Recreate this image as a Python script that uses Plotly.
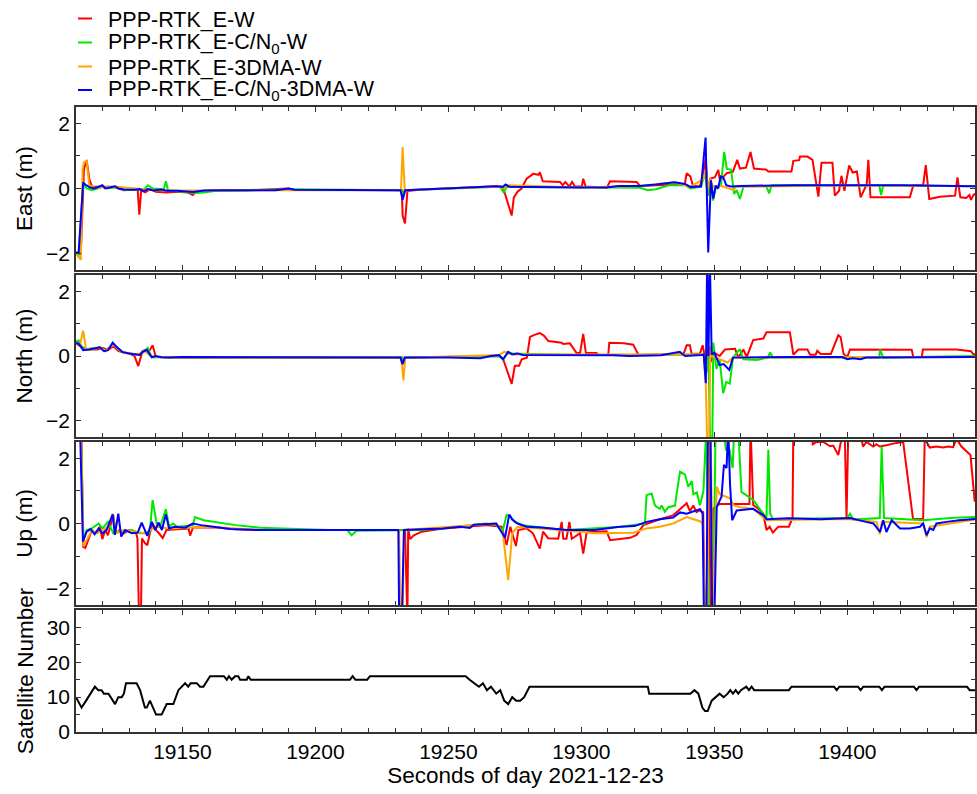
import plotly.graph_objects as go
from plotly.subplots import make_subplots

# ---------------- data (time [s of day], value) ----------------
east_red = [(19110,-2.0),(19111.8,-2.0),(19113,0.6),(19114,0.86),(19115,0.3),(19116,0.05),(19120,0.05),
    (19124,0.05),(19128,-0.05),(19132.3,-0.03),(19133.2,-0.05),(19133.8,-0.8),(19134.5,-0.05),(19136,-0.12),
    (19138,-0.02),(19140,-0.1),(19144,-0.12),(19148,-0.1),(19152,-0.12),(19153.9,-0.2),(19155,-0.1),
    (19160,-0.06),(19175,-0.05),(19190,0.0),(19192,-0.04),(19220,-0.05),(19232.5,-0.05),(19232.8,-0.83),
    (19233.7,-1.07),(19234.6,-0.08),(19240,-0.03),(19249,0.0),(19258,0.03),(19268,0.07),(19270.5,0.05),
    (19271.5,-0.2),(19273.8,-0.83),(19274.6,-0.28),(19276,-0.1),(19277.5,0.0),(19279.4,0.3),(19281.9,0.45),
    (19283.9,0.42),(19284.4,0.5),(19285.5,0.22),(19292,0.2),(19293,0.1),(19294,0.2),(19295.5,0.06),
    (19296.5,0.2),(19297.6,0.06),(19300.2,0.06),(19300.7,0.3),(19301.6,0.06),(19309.5,0.02),(19310.8,0.22),
    (19320.8,0.2),(19322,0.08),(19338.9,0.14),(19339.6,0.47),(19341,0.37),(19342,0.07),(19344.5,0.07),
    (19345.5,0.3),(19346.7,0.9),(19347.7,-0.22),(19348.4,0.3),(19350.2,0.35),(19351.5,0.57),(19352.1,0.25),
    (19354.7,0.47),(19357,0.52),(19358.6,0.88),(19359.6,0.61),(19361.9,0.64),(19363.6,1.12),(19364.9,0.61),
    (19369.4,0.58),(19370.3,0.52),(19379,0.52),(19379.7,0.85),(19381.9,0.87),(19382.2,0.98),(19385,0.98),
    (19386.9,0.88),(19389.1,-0.25),(19390.3,0.79),(19394.4,0.79),(19395.3,-0.22),(19396.9,-0.07),
    (19397.8,0.39),(19398.9,-0.07),(19400.7,0.71),(19402,0.49),(19403.6,0.52),(19405,-0.27),(19407.3,0.13),
    (19407.9,0.88),(19408.7,-0.27),(19423.5,-0.27),(19424.8,0.1),(19428.5,0.1),(19429.5,0.72),
    (19430.8,-0.32),(19434.8,-0.25),(19440.5,-0.22),(19441.4,0.34),(19442.5,-0.27),(19444.7,-0.29),
    (19445.9,-0.2),(19446.5,-0.35),(19447.3,-0.22),(19448,-0.15)]
east_green = [(19110,-2.0),(19111,-2.05),(19112.7,0.15),(19114,0.0),(19116,-0.05),(19118,0.0),(19120,0.05),
    (19122,0.0),(19125,0.04),(19128,-0.04),(19134,-0.04),(19136,0.0),(19137,0.1),(19139,0.0),(19143,-0.02),
    (19143.8,0.22),(19144.6,-0.06),(19150,-0.1),(19155,-0.14),(19158,-0.12),(19162,-0.08),(19170,-0.07),
    (19190,-0.02),(19232.5,-0.05),(19232.8,-0.15),(19233.5,-0.05),(19258,0.03),(19269.5,0.05),
    (19270.8,-0.12),(19272,0.05),(19310,0.03),(19322,0.02),(19325,-0.05),(19328,-0.02),(19333,0.1),
    (19339,0.1),(19341,0.0),(19345,0.06),(19346.5,0.5),(19347.5,-0.2),(19348.5,0.3),(19349.5,-0.37),
    (19350.5,0.0),(19352.5,0.1),(19353.7,1.12),(19354.7,0.6),(19356.3,0.58),(19357.4,-0.17),
    (19358.4,-0.05),(19359.6,-0.32),(19361,0.07),(19369.5,0.07),(19370.6,-0.15),(19371.5,0.1),
    (19400,0.1),(19412,0.1),(19412.7,-0.2),(19413.5,0.1),(19448,0.07)]
east_orange = [(19110,-2.0),(19111.8,-2.19),(19112.5,0.6),(19113,0.8),(19114,0.85),(19115,0.1),
    (19117,0.02),(19125,0.05),(19140,-0.05),(19160,-0.06),(19200,-0.05),(19232.2,-0.05),(19232.8,1.27),
    (19233.6,-0.05),(19258,0.03),(19269.5,0.05),(19271,0.0),(19272,0.1),(19300,0.03),(19322,0.08),
    (19335,0.19),(19341,0.05),(19346,0.3),(19346.8,0.6),(19347.6,0.0),(19348.5,0.3),(19349.5,0.05),
    (19352,0.1),(19357.2,-0.05),(19358,0.05),(19400,0.1),(19448,0.07)]
east_blue = [(19110,-1.96),(19111,-1.96),(19112.7,0.19),(19113.5,0.12),(19115.3,0.03),(19117,0.0),
    (19119.9,0.1),(19121,0.0),(19124.7,0.07),(19126,0.0),(19128,-0.03),(19132,-0.04),(19134,-0.02),
    (19135.5,-0.08),(19137,-0.02),(19139,-0.06),(19142,-0.03),(19144,-0.07),(19148,-0.07),(19154,-0.11),
    (19158,-0.06),(19165,-0.05),(19185,-0.05),(19190,0.0),(19192,-0.04),(19220,-0.05),(19232,-0.05),
    (19232.8,-0.35),(19233.8,-0.05),(19240,-0.03),(19249,0.0),(19258,0.03),(19263,0.05),(19268,0.07),
    (19270.5,0.05),(19271.5,0.12),(19273,0.05),(19280,0.04),(19300,0.03),(19310,0.04),(19314,0.08),
    (19322,0.08),(19328,0.12),(19335,0.19),(19339,0.14),(19341,0.05),(19345,0.06),(19346.7,1.56),
    (19347.7,-1.96),(19348.7,0.25),(19349.6,-0.31),(19350.5,0.09),(19351.4,0.0),(19352.4,0.37),
    (19353.4,0.33),(19354.5,0.1),(19356,0.06),(19360,0.08),(19380,0.1),(19420,0.1),(19440,0.08),
    (19448,0.07)]

north_red = [(19110,0.38),(19112,0.3),(19114,0.2),(19118,0.2),(19120,0.25),(19122,0.18),(19124,0.3),
    (19126,0.15),(19130,0.08),(19132,0.0),(19133.4,-0.31),(19135,0.15),(19136.5,0.2),(19137.5,0.15),
    (19138.8,0.33),(19140,-0.02),(19145,-0.05),(19200,-0.05),(19232.5,-0.05),(19233,-0.15),(19234,-0.05),
    (19269,0.0),(19270.6,-0.1),(19273.8,-0.86),(19275,-0.3),(19276.6,-0.3),(19277.6,-0.1),(19279.5,-0.05),
    (19280.7,0.59),(19282.6,0.66),(19284.4,0.71),(19285.9,0.63),(19287.6,0.46),(19292.6,0.41),
    (19293.2,0.37),(19295.7,0.39),(19298.2,0.09),(19299.5,0.09),(19300.7,0.68),(19301.7,0.09),
    (19305.7,0.09),(19306.5,0.03),(19310.1,0.03),(19310.5,0.41),(19316,0.39),(19319.5,0.35),
    (19321.5,0.03),(19338.4,0.06),(19339.6,0.33),(19340.8,0.33),(19341.5,0.06),(19344.6,0.08),
    (19345.6,0.33),(19346.4,0.0),(19347,-0.5),(19347.8,0.3),(19348.5,-0.2),(19350,0.1),(19352,0.0),
    (19354,0.2),(19357.8,0.22),(19359,-0.05),(19360.9,0.2),(19362.2,-0.03),(19364.6,0.49),(19368.4,0.54),
    (19369.6,0.73),(19378.4,0.73),(19379.7,0.04),(19381.6,0.2),(19385,0.2),(19386,0.04),(19388.1,0.04),
    (19388.7,0.16),(19390,0.06),(19393.8,0.06),(19396.6,0.64),(19397.5,0.58),(19398.6,0.06),
    (19400,-0.03),(19401,0.2),(19424.2,0.19),(19424.8,-0.03),(19428,-0.03),(19428.4,0.2),(19441,0.2),
    (19446.5,0.15),(19447.3,0.06),(19448,0.05)]
north_green = [(19110,0.45),(19111,0.48),(19112.7,0.2),(19119,0.27),(19121,0.15),(19124,0.38),(19127,0.12),
    (19134,0.03),(19137,0.25),(19138.5,-0.04),(19200,-0.05),(19232.5,-0.05),(19233,-0.2),(19233.5,-0.05),
    (19269.5,0.0),(19270.5,-0.12),(19272,0.08),(19300,0.03),(19346,0.05),(19346.8,-0.6),(19347.8,0.0),
    (19348.5,-3.0),(19349.2,-3.0),(19349.6,0.41),(19350.8,-0.4),(19352,-0.1),(19353.3,-1.15),
    (19354.5,-0.8),(19355.8,-0.85),(19357,-0.05),(19359.6,0.21),(19360.9,-0.1),(19366,-0.12),
    (19370,-0.05),(19371,0.11),(19372,-0.05),(19412,-0.05),(19412.3,0.2),(19413.5,-0.05),(19448,0.0)]
north_orange = [(19110,0.4),(19111.5,0.35),(19112.7,0.78),(19113.8,0.2),(19116,0.2),(19119,0.27),
    (19121,0.17),(19124,0.35),(19126,0.2),(19128,0.1),(19133,0.05),(19136,0.15),(19138,0.0),
    (19145,-0.05),(19232,-0.05),(19232.6,-0.3),(19233.1,-0.75),(19233.8,-0.05),(19269,0.03),
    (19271,0.13),(19273,0.1),(19275,0.05),(19346,0.05),(19346.8,-0.9),(19347.4,-3.0),(19348,-3.0),
    (19348.5,0.3),(19349,0.0),(19352,-0.1),(19355,-0.2),(19357,-0.05),(19448,-0.03)]
north_blue = [(19110,0.41),(19111,0.38),(19112.7,0.18),(19115,0.2),(19119,0.27),(19120.5,0.15),
    (19122,0.18),(19123.8,0.41),(19125,0.3),(19127.5,0.12),(19130,0.08),(19132,0.05),(19134,0.03),
    (19135,0.12),(19136.6,0.19),(19138.5,-0.04),(19140,0.0),(19142,-0.04),(19145,-0.05),(19150,-0.03),
    (19180,-0.04),(19232,-0.05),(19232.8,-0.25),(19233.6,-0.05),(19250,-0.05),(19262,-0.07),
    (19266,0.0),(19269,0.03),(19270.6,-0.1),(19272.5,0.13),(19274,0.05),(19276,0.08),(19278,0.03),
    (19300,0.03),(19312,0.02),(19318,0.0),(19330,0.02),(19337,0.13),(19339,0.0),(19345,0.03),
    (19346,0.05),(19346.8,-0.84),(19347.3,3.0),(19347.8,0.0),(19348.3,3.0),(19349,0.05),(19350,0.1),
    (19352,-0.28),(19353.5,-0.25),(19355.6,-0.43),(19357,-0.05),(19380,-0.03),(19398,-0.03),
    (19400,-0.1),(19402,-0.07),(19405,-0.1),(19407,-0.05),(19448,-0.03)]

up_red = [(19110,3.0),(19112,3.0),(19112.7,-0.72),(19113.5,-0.75),(19115.7,-0.26),(19118,-0.25),
    (19119,-0.1),(19119.9,-0.48),(19121,-0.2),(19122,-0.36),(19124,0.26),(19125,-0.3),(19126.5,-0.2),
    (19128,-0.3),(19130,-0.2),(19132.6,-0.3),(19133.1,-0.45),(19133.7,-3.0),(19134.4,-3.0),
    (19134.8,-0.46),(19135.9,-0.6),(19136.8,-0.67),(19137.8,-0.3),(19138.8,0.0),(19140,-0.2),
    (19141.2,-0.3),(19142.6,-0.45),(19144,-0.2),(19152.3,-0.15),(19152.9,-0.37),(19154,-0.12),
    (19163,-0.12),(19170,-0.18),(19180,-0.2),(19233.7,-0.2),(19234.1,-3.0),(19234.6,-3.0),
    (19234.9,-0.15),(19235.6,-0.48),(19237,-0.36),(19240,-0.25),(19248,-0.15),(19258,-0.1),
    (19264,-0.05),(19270,-0.1),(19271.9,-0.66),(19273.3,-0.1),(19275.4,-0.69),(19276.3,-0.2),
    (19279.4,-0.15),(19281.8,-0.3),(19284.4,-0.77),(19285.6,-0.25),(19287.5,-0.45),(19291.3,-0.47),
    (19292.6,0.05),(19293.2,-0.47),(19294.4,-0.47),(19295.5,0.05),(19296.4,-0.47),(19299.5,-0.3),
    (19300.7,-0.92),(19302,-0.27),(19309.5,-0.24),(19310.8,-0.51),(19318.3,-0.44),(19320.8,-0.35),
    (19323.3,-0.05),(19329.5,0.13),(19334.5,0.25),(19339.6,0.62),(19340.8,0.38),(19342.1,0.55),
    (19343.3,0.35),(19344.6,0.4),(19345.8,0.35),(19346.4,-3.0),(19347.2,-3.0),(19347.9,3.0),
    (19348.6,-3.0),(19349.5,0.45),(19352,0.6),(19360,0.6),(19363.2,0.6),(19363.6,3.0),(19364.6,0.57),
    (19366.5,0.45),(19368.4,0.3),(19369.6,-0.2),(19370.8,-0.1),(19372,-0.28),(19374,-0.1),(19378,-0.1),
    (19379.4,0.17),(19379.7,3.0),(19386.6,3.0),(19387,2.43),(19388.5,2.5),(19391,2.5),(19393.5,2.37),
    (19394.7,2.39),(19396.6,2.1),(19397.8,2.6),(19399.1,2.5),(19399.7,0.17),(19400.3,2.6),
    (19405.3,2.6),(19405.9,2.36),(19407.2,2.5),(19409.7,2.36),(19410.9,2.43),(19412.2,2.36),
    (19414.7,2.4),(19417.2,2.45),(19421,2.5),(19424.7,0.14),(19428.5,0.14),(19429.1,2.6),(19431,2.33),
    (19433.5,2.36),(19436,2.33),(19437.9,2.36),(19439.8,2.34),(19441,2.6),(19442.9,2.36),(19444.8,2.2),
    (19446.3,2.1),(19447.9,0.67)]
up_green = [(19110,3.0),(19111.8,3.0),(19112.8,-0.5),(19114,-0.2),(19116,-0.15),(19118.5,0.0),
    (19120,-0.15),(19122,0.05),(19124,-0.3),(19126,-0.25),(19131,-0.2),(19134,-0.3),(19137.7,-0.3),
    (19138.8,0.72),(19140.3,0.0),(19141.6,-0.1),(19143.8,0.44),(19145,-0.1),(19146.5,0.0),(19148,-0.1),
    (19154,-0.05),(19154.7,0.2),(19158,0.1),(19162.9,0.03),(19170,-0.05),(19179.2,-0.13),
    (19191.7,-0.17),(19205,-0.2),(19212,-0.2),(19213.6,-0.36),(19215.5,-0.22),(19240,-0.2),
    (19254,-0.1),(19264,0.0),(19268,-0.05),(19270.5,-0.2),(19271.9,0.26),(19273.5,0.2),(19275,0.05),
    (19278,-0.05),(19285,-0.12),(19294,-0.2),(19315,-0.1),(19323.9,0.0),(19324.5,0.87),(19326.4,0.92),
    (19327.7,0.55),(19329.5,0.45),(19330.2,0.55),(19331.4,0.36),(19332.7,0.5),(19335.2,0.55),
    (19335.8,0.9),(19337.1,1.59),(19339,1.5),(19340.2,1.13),(19341.5,1.3),(19342.1,0.9),(19343.4,0.95),
    (19344.6,0.56),(19345.9,1.0),(19347,3.0),(19348,-3.0),(19349.5,-3.0),(19350.5,3.0),(19352.7,3.0),
    (19353.6,2.7),(19354.4,2.26),(19355.7,2.26),(19356.9,1.7),(19357.5,3.0),(19358.9,3.0),
    (19360.2,0.97),(19364.6,0.72),(19368.4,0.3),(19369.6,0.17),(19370.3,2.26),(19371,0.3),
    (19372,0.14),(19400,0.17),(19401,0.3),(19402.3,0.12),(19412.2,0.17),(19412.9,2.36),(19413.8,0.17),
    (19420,0.15),(19428.5,0.1),(19440,0.18),(19448,0.2)]
up_orange = [(19110,3.0),(19111.8,3.0),(19112.8,-0.7),(19114,-0.5),(19116,-0.2),(19118,-0.3),
    (19122,-0.1),(19123.8,0.3),(19125,-0.3),(19128,-0.2),(19132,-0.25),(19136,-0.3),(19140,-0.1),
    (19145,-0.15),(19160,-0.1),(19180,-0.2),(19231.5,-0.2),(19232,-3.0),(19232.8,-3.0),(19233.3,-0.2),
    (19268,0.0),(19270.5,-0.3),(19272.5,-1.74),(19274,-0.3),(19276,-0.1),(19294,-0.2),(19300,-0.25),
    (19305,-0.3),(19319.5,-0.28),(19324.5,-0.15),(19329.5,-0.1),(19334.5,0.0),(19337,0.1),
    (19339.6,0.2),(19344.6,0.07),(19345.6,0.0),(19346.5,-3.0),(19347.3,-3.0),(19348,3.0),(19348.6,3.0),
    (19349.5,-3.0),(19350.9,1.13),(19352,0.9),(19354.4,0.82),(19355.9,0.77),(19357.2,0.56),
    (19359.6,0.5),(19364.6,0.45),(19368.4,0.2),(19369.6,0.1),(19400,0.14),(19411,0.05),(19412.2,-0.33),
    (19413,0.05),(19428.5,0.0),(19429.8,-0.42),(19431,-0.1),(19448,0.12)]
up_blue = [(19110,3.0),(19111.5,3.0),(19112.6,-0.56),(19114,-0.25),(19115.5,-0.17),(19117,-0.33),
    (19118.5,-0.15),(19119.9,-0.3),(19121.5,-0.2),(19123.8,0.28),(19124.6,-0.35),(19125.9,0.3),
    (19127,-0.4),(19128.5,-0.2),(19131,-0.3),(19133.2,-0.28),(19134.7,0.03),(19136.8,-0.38),
    (19138.5,0.05),(19139.8,-0.2),(19141,0.03),(19142.3,-0.2),(19143.8,0.28),(19145,-0.15),
    (19147,-0.1),(19151,-0.13),(19153.9,0.0),(19157,-0.05),(19161.6,-0.1),(19168,-0.17),(19178,-0.2),
    (19231.2,-0.2),(19231.5,-3.0),(19232.5,-3.0),(19233.3,-0.2),(19242,-0.18),(19248,-0.15),
    (19254.4,-0.1),(19258.1,-0.14),(19259.5,-0.04),(19268,0.0),(19271.3,-0.44),(19272.9,0.28),
    (19274,0.12),(19276,0.0),(19279.4,-0.1),(19285,-0.12),(19294.5,-0.2),(19305,-0.2),(19314.5,-0.1),
    (19320,-0.08),(19324.5,0.05),(19329.5,0.13),(19334.5,0.18),(19337.1,0.34),(19339.6,0.3),
    (19342.1,0.37),(19344.6,0.44),(19345.6,0.3),(19346.1,-3.0),(19347.0,-3.0),(19347.6,3.0),
    (19348.5,3.0),(19349.2,-3.0),(19350,-3.0),(19350.9,0.51),(19352.7,0.82),(19353.6,1.8),
    (19354.6,1.7),(19355.2,3.0),(19355.9,1.2),(19356.7,0.1),(19358.4,0.4),(19364.6,0.45),
    (19366.5,0.35),(19368.4,0.26),(19369.6,0.13),(19378,0.16),(19390,0.13),(19401,0.17),(19407,0.05),
    (19409.8,0.0),(19412.3,-0.26),(19413.5,0.1),(19414.7,-0.26),(19416.7,0.1),(19419.8,-0.15),
    (19423.5,-0.15),(19427.3,-0.1),(19428.5,0.0),(19429.8,-0.36),(19431,-0.15),(19432.3,-0.2),
    (19433.5,0.0),(19437.3,0.05),(19442,0.1),(19448,0.14)]

sat_number = [(19110,10),(19112.1,7),(19113.8,9),(19117.1,13),(19118.4,12),(19119.6,12),(19120.5,11),
    (19122.2,11),(19124.7,8),(19125.9,10),(19127.2,10),(19128,11),(19128.8,14),(19132.8,14),
    (19134.1,12),(19135.9,7),(19136.6,7),(19137.8,9),(19140.1,5),(19142.2,5),(19144.1,8),(19146.6,8),
    (19148.5,12),(19151,14),(19152.2,13),(19153.1,14),(19155.4,14),(19156.6,13),(19157.9,13),
    (19160.4,16),(19165.6,16),(19166.7,15),(19167.5,16),(19168.5,15),(19169.8,16),(19171,16),
    (19171.7,15),(19174.2,15),(19174.8,16),(19175.7,15),(19213,15),(19214,16),(19215,15),(19219.5,15),
    (19220.5,16),(19256.5,16),(19258,15),(19260,14),(19261.5,13),(19263,14),(19264.5,12),(19266,13),
    (19268,11),(19269.5,12),(19271,9),(19272.5,8),(19274,10),(19275.5,9),(19277,9),(19278.5,10),
    (19280.5,13),(19325,13),(19325.5,11),(19341,11),(19342.5,12),(19344,11),(19345.5,7),(19346.5,6),
    (19347.5,6),(19349,9),(19350.5,10),(19352,11),(19353.5,10),(19355,11),(19356,12),(19357,11),
    (19358,12),(19359,11),(19360,12),(19362,13),(19363,12),(19364,13),(19365,12),(19378,12),(19379,13),
    (19395,13),(19396,12),(19397,13),(19404,13),(19405,12),(19406,13),(19412,13),(19413,12),(19414,13),
    (19425,13),(19426,12),(19427,13),(19445,13),(19446,12),(19448,12)]

series_names = ["PPP-RTK_E-W", "PPP-RTK_E-C/N<sub>0</sub>-W", "PPP-RTK_E-3DMA-W",
                "PPP-RTK_E-C/N<sub>0</sub>-3DMA-W"]
series_colors = ["#FF0000", "#00E800", "#FFA500", "#0000FF"]
panel_titles = ["East (m)", "North (m)", "Up (m)", "Satellite Number"]
x_ticks = [19150, 19200, 19250, 19300, 19350, 19400]

panels = [
    [east_red, east_green, east_orange, east_blue],
    [north_red, north_green, north_orange, north_blue],
    [up_red, up_green, up_orange, up_blue],
]

FONT = "Liberation Sans, Arial, Helvetica, sans-serif"

fig = make_subplots(rows=4, cols=1, shared_xaxes=True)

for r, panel in enumerate(panels, start=1):
    for k, ser in enumerate(panel):
        xs, ys = zip(*ser)
        fig.add_trace(go.Scatter(x=list(xs), y=list(ys), mode="lines", name=series_names[k],
                                 line=dict(color=series_colors[k], width=2),
                                 showlegend=False, legendgroup=str(k)), row=r, col=1)

sx, sy = zip(*sat_number)
fig.add_trace(go.Scatter(x=list(sx), y=list(sy), mode="lines", line=dict(color="black", width=2),
                         showlegend=False), row=4, col=1)

# plot area in px: x 76..975, y 107..732
L, R, T, B = 76.0, 975.0, 107.0, 732.0
W, H = R - L, B - T
def px_x(p):
    return (p - L) / W
def px_y(p):
    return (B - p) / H
def dom(top, bot):
    return [px_y(bot), px_y(top)]
domains = [dom(107, 270), dom(275, 437), dom(442, 605), dom(610, 732)]

axis_common = dict(showline=True, linecolor="#333333", linewidth=1.5, mirror="ticks",
                   ticks="inside", ticklen=5, tickwidth=1, tickcolor="#333333",
                   showgrid=False, zeroline=False,
                   tickfont=dict(family=FONT, size=21, color="black"))

for i in range(4):
    n = "" if i == 0 else str(i + 1)
    fig.layout["xaxis" + n].update(**axis_common, range=[19110, 19448], tickvals=x_ticks,
                                  tickformat="d",
                                  minor=dict(dtick=10, tick0=19150, ticks="inside", ticklen=4,
                                             tickcolor="#333333", showgrid=False),
                                  showticklabels=(i == 3))
    if i < 3:
        fig.layout["yaxis" + n].update(**axis_common, range=[-2.5, 2.5], tickvals=[-2, 0, 2],
                                      minor=dict(dtick=1, ticks="inside", ticklen=4,
                                                 tickcolor="#333333", showgrid=False),
                                      domain=domains[i])
    else:
        fig.layout["yaxis" + n].update(**axis_common, range=[0, 35], tickvals=[0, 10, 20, 30],
                                      minor=dict(dtick=5, ticks="inside", ticklen=4,
                                                 tickcolor="#333333", showgrid=False),
                                      domain=domains[i])
    fig.layout["yaxis" + n].title = dict(text=panel_titles[i], standoff=7,
                                         font=dict(family=FONT, size=22.5, color="black"))

fig.layout.xaxis4.title = dict(text="Seconds of day 2021-12-23", standoff=4,
                               font=dict(family=FONT, size=22.5, color="black"))

# legend drawn as short line samples + text labels (top-left)
legend_rows = [18.5, 42.5, 66.5, 90]
shapes = []
annotations = []
for k, yy in enumerate(legend_rows):
    shapes.append(dict(type="line", xref="paper", yref="paper",
                       x0=px_x(78), x1=px_x(92), y0=px_y(yy), y1=px_y(yy),
                       line=dict(color=series_colors[k], width=2)))
    annotations.append(dict(text=series_names[k], xref="paper", yref="paper",
                            x=px_x(106), y=px_y(yy + 1), xanchor="left", yanchor="middle",
                            showarrow=False, font=dict(family=FONT, size=21.5, color="black")))

fig.update_layout(
    width=977, height=794,
    margin=dict(l=76, r=2, t=107, b=62, autoexpand=False),
    paper_bgcolor="white", plot_bgcolor="white",
    font=dict(family=FONT, size=21, color="black"),
    showlegend=False,
    shapes=shapes,
    annotations=annotations,
)

fig.write_html("out.html")
